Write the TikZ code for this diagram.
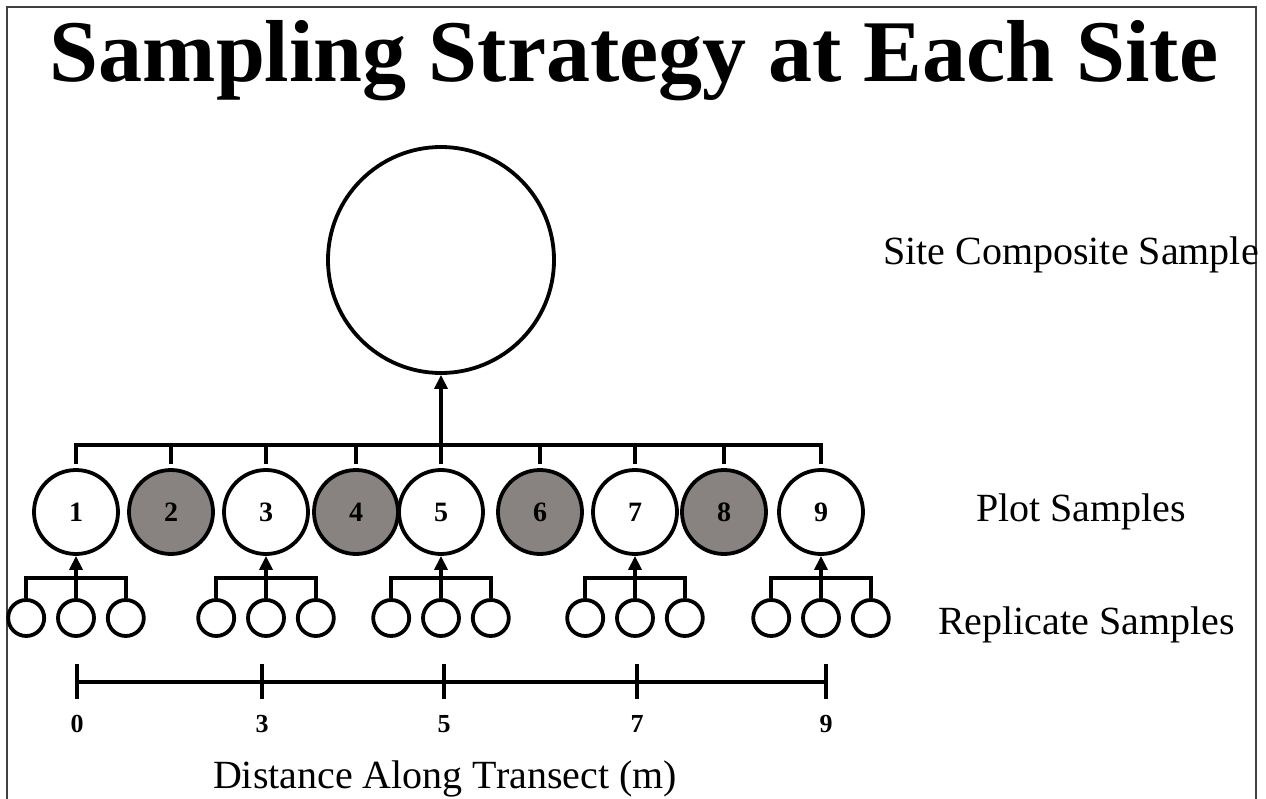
\documentclass[tikz,border=0pt]{standalone}
\usepackage{fontspec}
\setmainfont{Liberation Serif}
\usetikzlibrary{arrows.meta,positioning}
\definecolor{plotgrey}{RGB}{136,131,129}
\newcommand\plotnumfont{\fontsize{28}{30}\selectfont\bfseries}
\newcommand\axnumfont{\fontsize{26}{28}\selectfont\bfseries}
\tikzset{
  smp/.style={circle,draw,line width=3.8pt,inner sep=0pt},
  sitec/.style={smp,minimum size=226pt},
  plotw/.style={smp,minimum size=84pt},
  plotg/.style={plotw,fill=plotgrey},
  repc/.style={smp,minimum size=36pt},
  wire/.style={line width=3.8pt},
  up/.style={wire,-{Triangle[width=13pt,length=14pt]}},
  side/.style={font=\fontsize{40}{40}\selectfont,anchor=base west,inner sep=0pt},
  axlbl/.style={inner sep=0pt},
}
\begin{document}
\begin{tikzpicture}[x=1pt,y=-1pt]
\useasboundingbox (0,0) rectangle (1266,799);
% frame, open at the bottom
\draw[line width=2pt,black!75] (7,799) -- (7,7) -- (1256,7) -- (1256,799);
\node[font=\fontsize{88}{88}\selectfont\bfseries,anchor=base,inner sep=0pt] (title) at (634,82) {Sampling Strategy at Each Site};

% site composite
\node[sitec] (site) at (441,260) {};
\node[side] (lsite) at (883,265) {Site Composite Sample};

% plot samples
\foreach \n/\px/\st in {1/76/plotw,2/171/plotg,3/266/plotw,4/356/plotg,5/441/plotw,6/540/plotg,7/635/plotw,8/724/plotg,9/821/plotw}
  \node[\st] (p\n) at (\px,512) {\plotnumfont\n};
\node[side] (lplot) at (976,521) {Plot Samples};
\coordinate (pbus) at (0,445);
\draw[wire,shorten <=4pt,shorten >=4pt] (p1) -- (p1 |- pbus) -- (p9 |- pbus) -- (p9);
\foreach \n in {2,...,8}
  \draw[wire,shorten <=4pt] (p\n) -- (p\n |- pbus);
\draw[up] (p5 |- pbus) -- (site);

% replicate samples
\coordinate (rrow) at (0,618);
\coordinate (rbus) at (0,578);
\foreach \g/\n in {1/1,2/3,3/5,4/7,5/9}{
  \node[repc] (r\g b) at (p\n |- rrow) {};
  \node[repc,left=10pt of r\g b] (r\g a) {};
  \node[repc,right=10pt of r\g b] (r\g c) {};
  \draw[wire] (r\g a) -- (r\g a |- rbus) -- (r\g c |- rbus) -- (r\g c);
  \draw[up] (r\g b) -- (p\n);
}
\node[side] (lrep) at (938,634) {Replicate Samples};

% distance scale
\draw[wire] (77,682) -- (826,682);
\foreach \k/\tx/\dist in {0/77/0,1/262/3,2/444/5,3/637/7,4/826/9}{
  \draw[wire] (\tx,664) -- (\tx,699);
  \node[axlbl] (d\k) at (\tx,724) {\axnumfont\dist};
}
\node[font=\fontsize{40}{40}\selectfont,anchor=base,inner sep=0pt] (ldist) at (445,788) {Distance Along Transect (m)};
\end{tikzpicture}
\end{document}
